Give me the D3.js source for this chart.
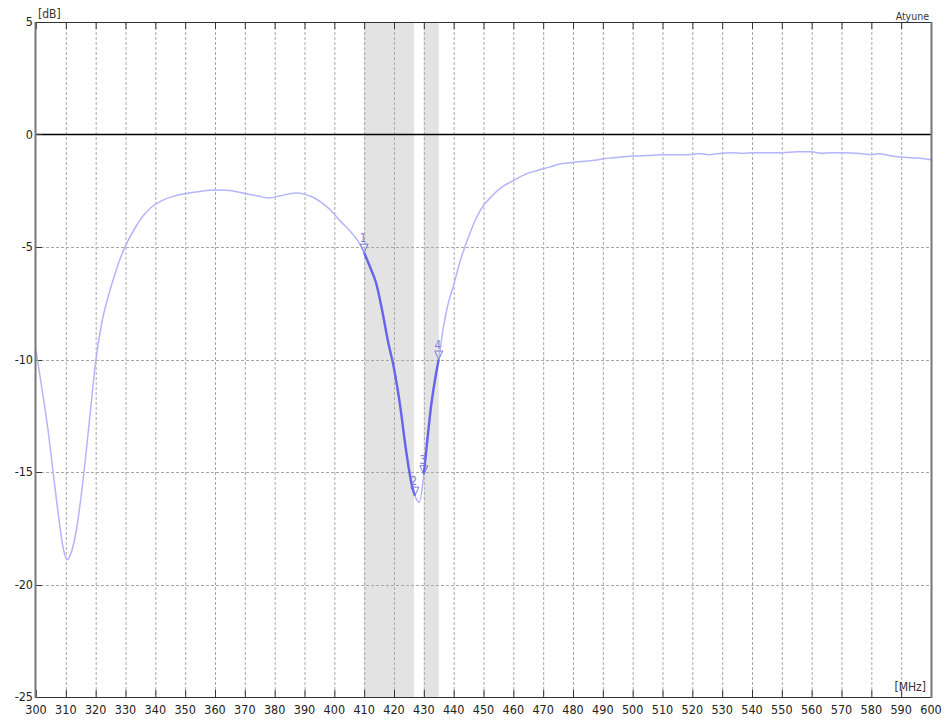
<!DOCTYPE html>
<html><head><meta charset="utf-8">
<script src="https://cdn.jsdelivr.net/npm/d3@7"></script>
<style>
html,body{margin:0;padding:0;background:#fff;}
svg text{font-family:"DejaVu Sans Condensed","DejaVu Sans",Verdana,sans-serif;}
</style></head>
<body><svg id="chart" width="945" height="720"></svg>
<script>
const freqs = [300,302,304,306,308,309,310.5,312,313.5,315,316.5,318,320,322,324,326,328,330,333,336,339,342,346,350,355,360,364,370,374,378,382,387,390,393,396,399,402,405,408,410,412,414,416,418,420,422,424,426,427,428.5,430,431,432.5,434,435,436.5,438,440,442,444,446,448,450,452,456,460,464,468,472,476,480,484,488,492,496,500,505,510,515,520,522,525.5,529,533,537,540,545,550,555,560,563,567,570,576,580,582.5,586,589,594,597,600];
const values = [-9.6,-11.3,-13.1,-15.3,-17.4,-18.3,-18.9,-18.5,-17.6,-16.2,-14.5,-12.6,-10.1,-8.4,-7.3,-6.4,-5.6,-4.95,-4.2,-3.6,-3.2,-2.95,-2.75,-2.63,-2.53,-2.47,-2.48,-2.62,-2.72,-2.82,-2.72,-2.6,-2.65,-2.8,-3.05,-3.4,-3.85,-4.25,-4.75,-5.25,-5.9,-6.6,-7.8,-9.2,-10.4,-12.0,-14.0,-15.6,-16.05,-16.35,-15.1,-13.8,-12.0,-10.7,-10.0,-8.6,-7.6,-6.7,-5.7,-4.9,-4.2,-3.6,-3.15,-2.85,-2.35,-2.05,-1.77,-1.6,-1.45,-1.3,-1.24,-1.19,-1.13,-1.05,-1.0,-0.96,-0.93,-0.9,-0.9,-0.89,-0.84,-0.9,-0.84,-0.81,-0.84,-0.81,-0.81,-0.81,-0.77,-0.77,-0.83,-0.81,-0.81,-0.84,-0.9,-0.86,-0.93,-0.99,-1.04,-1.07,-1.12];
const bands = [[410,426.7],[430,435]];
const boldRanges = [[410,427],[430,435]];
const markerIds = [1,2,3,4];
const markerFreqs = [410,427,430,435];
const xTicks = d3.range(300,601,10);
const yTicks = [5,0,-5,-10,-15,-20,-25];

const svg = d3.select("#chart");
const L=36,R=931,T=22,B=697;
const x = d3.scaleLinear().domain([300,600]).range([L,R]);
const y = d3.scaleLinear().domain([-25,5]).range([B,T]);
const data = freqs.map((f,i)=>({f,v:values[i]}));

// bands
svg.append("g").selectAll("rect").data(bands).join("rect")
  .attr("x",d=>x(d[0])).attr("width",d=>x(d[1])-x(d[0]))
  .attr("y",T).attr("height",B-T).attr("fill","#e3e3e3");

// grid
const grid = svg.append("g");
grid.selectAll("line.v").data(xTicks.filter(t=>t>300&&t<600)).join("line")
  .attr("x1",d=>x(d)+0.5).attr("x2",d=>x(d)+0.5).attr("y1",T).attr("y2",B)
  .attr("stroke","#a8a8a8").attr("stroke-dasharray","3,2");
grid.selectAll("line.h").data(yTicks.filter(t=>t<5&&t>-25&&t!==0)).join("line")
  .attr("x1",L).attr("x2",R).attr("y1",d=>Math.round(y(d))+0.5).attr("y2",d=>Math.round(y(d))+0.5)
  .attr("stroke","#a8a8a8").attr("stroke-dasharray","3,2");
svg.append("line").attr("x1",L).attr("x2",R).attr("y1",Math.round(y(0))+0.5).attr("y2",Math.round(y(0))+0.5)
  .attr("stroke","#000").attr("stroke-width",1.3);

// tick marks
const tk = svg.append("g").attr("stroke","#333");
tk.selectAll("line.t").data(xTicks).join("line")
  .attr("x1",d=>x(d)+0.5).attr("x2",d=>x(d)+0.5).attr("y1",T).attr("y2",T+7);
tk.selectAll("line.b").data(xTicks).join("line")
  .attr("x1",d=>x(d)+0.5).attr("x2",d=>x(d)+0.5).attr("y1",B-7).attr("y2",B);
tk.selectAll("line.l").data(yTicks).join("line")
  .attr("x1",L).attr("x2",L+6).attr("y1",d=>Math.round(y(d))+0.5).attr("y2",d=>Math.round(y(d))+0.5);

// curve
const line = d3.line().x(d=>x(d.f)).y(d=>y(d.v)).curve(d3.curveMonotoneX);
svg.append("path").datum(data).attr("d",line).attr("fill","none")
  .attr("stroke","#b4b4fb").attr("stroke-width",1.5);
boldRanges.forEach(r=>{
  svg.append("path").datum(data.filter(d=>d.f>=r[0]&&d.f<=r[1])).attr("d",line)
    .attr("fill","none").attr("stroke","#6464ec").attr("stroke-width",2.4).attr("stroke-linejoin","round");
});

// markers
const mk = markerFreqs.map((f,i)=>({id:markerIds[i],f,v:data.find(d=>d.f===f).v}));
const mg = svg.append("g").selectAll("g").data(mk).join("g")
  .attr("transform",d=>`translate(${x(d.f)},${y(d.v)})`);
mg.append("path").attr("d","M-4,-8.5L4,-8.5L0,0Z").attr("fill","none").attr("stroke","#7a7ae0").attr("stroke-width",1);
mg.append("text").attr("x",-1).attr("y",-10.5).attr("text-anchor","middle")
  .attr("font-size",11.5).attr("fill","#7a7ae0").text(d=>d.id);

// frame
svg.append("line").attr("x1",L).attr("x2",R).attr("y1",T+0.5).attr("y2",T+0.5).attr("stroke","#333");
svg.append("line").attr("x1",L).attr("x2",R).attr("y1",B+0.5).attr("y2",B+0.5).attr("stroke","#333");
svg.append("line").attr("x1",L-0.5).attr("x2",L-0.5).attr("y1",T).attr("y2",B+1).attr("stroke","#777").attr("stroke-width",2);
svg.append("line").attr("x1",R+0.5).attr("x2",R+0.5).attr("y1",T).attr("y2",B+1).attr("stroke","#777").attr("stroke-width",2);

// axis labels
svg.append("g").selectAll("text").data(xTicks).join("text")
  .attr("x",d=>x(d)).attr("y",714).attr("text-anchor","middle")
  .attr("font-size",12.5).attr("fill","#222").text(d=>d);
svg.append("g").selectAll("text").data(yTicks).join("text")
  .attr("x",33).attr("y",d=>y(d)+4).attr("text-anchor","end")
  .attr("font-size",12.5).attr("fill","#222").text(d=>d);
svg.append("text").attr("x",38).attr("y",18).attr("font-size",12).attr("fill","#333").text("[dB]");
svg.append("text").attr("x",929).attr("y",20).attr("text-anchor","end").attr("font-size",10.5).attr("fill","#333").text("Atyune");
svg.append("text").attr("x",926).attr("y",691).attr("text-anchor","end").attr("font-size",12).attr("fill","#333").text("[MHz]");
</script></body></html>
